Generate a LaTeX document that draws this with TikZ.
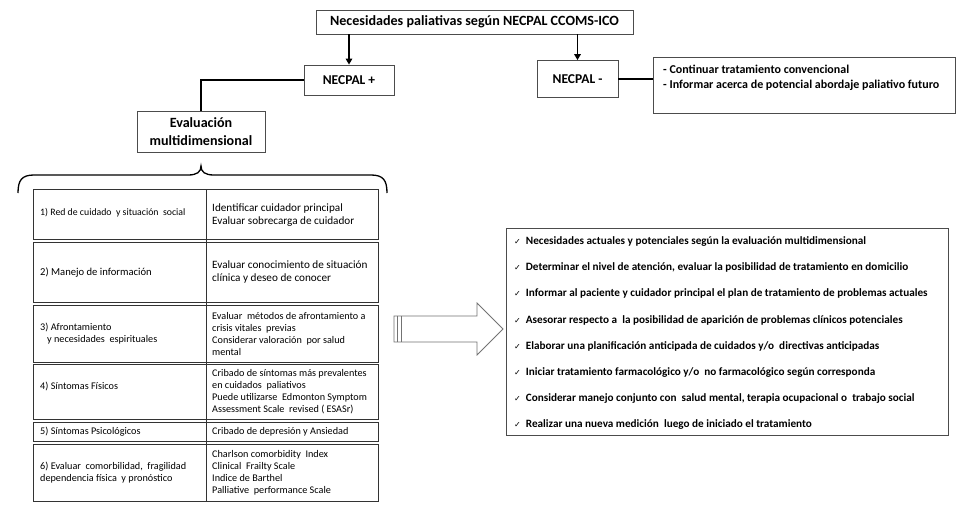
\documentclass[tikz,border=0pt]{standalone}
\usepackage{fontspec}
\setmainfont{Carlito}
\newfontfamily\dejavu{DejaVu Sans}
\usetikzlibrary{arrows.meta,calc}
\newcommand\myfs[2]{\fontsize{#1}{#2}\selectfont}
\begin{document}
\begin{tikzpicture}[x=1pt,y=-1pt,
  box/.style={draw=black!70, line width=0.8pt, inner sep=0pt, fill=white},
  conn/.style={line width=1.8pt, black},
  arr/.style={conn, -{Triangle[length=6pt,width=6.5pt]}},
  row/.style={draw=black!80, line width=0.9pt},
  tl/.style={anchor=west, inner sep=0pt, align=left},
  small/.style={tl, font=\myfs{10.2}{12}},
  mid/.style={tl, font=\myfs{11.2}{13}},
  item/.style={tl, font=\bfseries\myfs{11.2}{12}}]
\useasboundingbox (0,0) rectangle (964,516);
\fill[white] (0,0) rectangle (964,516);
% top part
\node[box, minimum width=317pt, minimum height=24pt, font=\bfseries\myfs{14.1}{15}] (top) at (474.5,22) {Necesidades paliativas según NECPAL CCOMS-ICO};
\node[box, minimum width=90pt, minimum height=30pt, font=\bfseries\myfs{13.5}{15}] (necp) at (349,80) {NECPAL +};
\node[box, minimum width=81pt, minimum height=37pt, font=\bfseries\myfs{13.5}{15}] (necm) at (577.5,79) {NECPAL -};
\node[box, minimum width=302pt, minimum height=56pt] (neg) at (804,85) {};
\node[tl, font=\bfseries\myfs{12}{15}] (negt) at (663,77.5) {- Continuar tratamiento convencional\\- Informar acerca de potencial abordaje paliativo futuro};
\node[box, minimum width=128pt, minimum height=41pt, align=center, font=\bfseries\myfs{14.1}{18}] (eval) at (201,131.5) {Evaluación\\multidimensional};
\draw[arr] (top.south -| necp.north) -- (necp.north);
\draw[arr] (top.south -| necm.north) -- (necm.north);
\draw[conn] (necp.west) -| (eval.north);
\draw[conn] (necm.east) -- (necm.east -| neg.west);
% brace
\draw[line width=1.3pt] (18,193) .. controls (18,180) and (22,175) .. (34,175) -- (188,175) .. controls (197,175) and (201,172) .. (201,166) .. controls (201,172) and (205,175) .. (214,175) -- (371,175) .. controls (383,175) and (387,180) .. (387,193);
% table
\foreach \a/\b in {189/239, 242/302, 305/362, 364.5/419.5, 422.5/441.5, 444.5/501}
  \draw[row] (33,\a) rectangle (378,\b);
\draw[row] (206,189) -- (206,501);
\node[tl, font=\myfs{9.8}{11}] (l1) at (40,213) {1) Red de cuidado\ \ y situación\ \ social};
\node[mid] (r1) at (212,215) {Identificar cuidador principal\\Evaluar sobrecarga de cuidador};
\node[tl, font=\myfs{10.6}{13}] (l2) at (40,273) {2) Manejo de información};
\node[mid] (r2) at (212,272.5) {Evaluar conocimiento de situación\\clínica y deseo de conocer};
\node[small] (l3) at (40,333.5) {3) Afrontamiento\\\hspace*{7pt}y necesidades\ \ espirituales};
\node[small] (r3) at (212,334) {Evaluar\ \ métodos de afrontamiento a\\crisis vitales\ \ previas\\Considerar valoración\ \ por salud\\mental};
\node[small] (l4) at (40,386) {4) Síntomas Físicos};
\node[small] (r4) at (212,392) {Cribado de síntomas más prevalentes\\en cuidados\ \ paliativos\\Puede utilizarse\ \ Edmonton Symptom\\Assessment Scale\ \ revised ( ESASr)};
\node[small] (l5) at (40,432) {5) Síntomas Psicológicos};
\node[small] (r5) at (212,432) {Cribado de depresión y Ansiedad};
\node[small] (l6) at (40,472.5) {6) Evaluar\ \ comorbilidad,\ \ fragilidad\\dependencia física\ \ y pronóstico};
\node[small] (r6) at (212,473) {Charlson comorbidity\ \ Index\\Clinical\ \ Frailty Scale\\Indice de Barthel\\Palliative\ \ performance Scale};
% block arrow
\draw[black!55, line width=0.8pt, fill=white] (394,316) -- (477,316) -- (477,303) -- (503,329) -- (477,355) -- (477,342) -- (394,342) -- cycle;
\draw[black!55, line width=0.8pt] (397.5,316) -- (397.5,342) (401,316) -- (401,342);
% right box
\node[box, minimum width=442pt, minimum height=207pt] (plan) at (727,331.5) {};
\foreach \t [count=\i from 0] in {
  {Necesidades actuales y potenciales según la evaluación multidimensional},
  {Determinar el nivel de atención, evaluar la posibilidad de tratamiento en domicilio},
  {Informar al paciente y cuidador principal el plan de tratamiento de problemas actuales},
  {Asesorar respecto a\ \ la posibilidad de aparición de problemas clínicos potenciales},
  {Elaborar una planificación anticipada de cuidados y/o\ \ directivas anticipadas},
  {Iniciar tratamiento farmacológico y/o\ \ no farmacológico según corresponda},
  {Considerar manejo conjunto con\ \ salud mental, terapia ocupacional o\ \ trabajo social},
  {Realizar una nueva medición\ \ luego de iniciado el tratamiento}}
  \node[item] (it\i) at (514,241.5+26.2*\i) {{\dejavu\mdseries\myfs{8}{8}✓}\hspace{5pt}\t};
\end{tikzpicture}
\end{document}
